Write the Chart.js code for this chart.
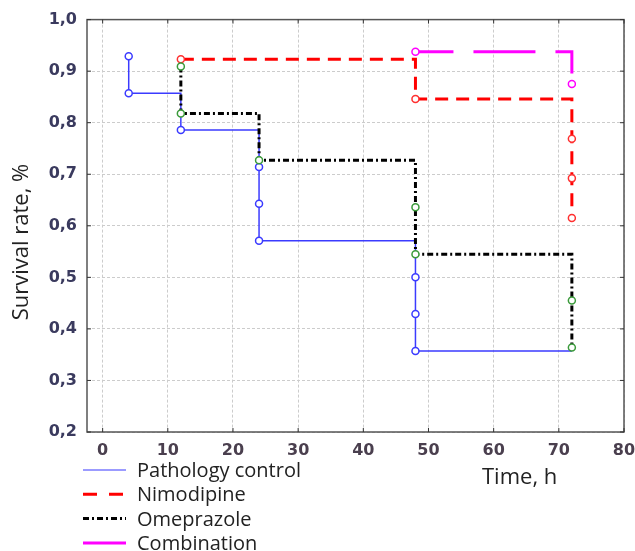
<!DOCTYPE html>
<html>
<head>
<meta charset="utf-8">
<script src="https://cdn.jsdelivr.net/npm/chart.js@4.4.0/dist/chart.umd.min.js"></script>
<style>
  html, body { margin: 0; padding: 0; background: #fff; }
</style>
</head>
<body>
<canvas id="chartjs-0" width="635" height="551"></canvas>
<script>
"use strict";

/* survival steps (time in h, survival fraction) */
var seriesNames = ["Pathology control", "Nimodipine", "Omeprazole", "Combination"];

var controlTimes = [4, 4, 12, 24, 24, 24, 48, 48, 48];
var controlSurv = [0.929, 0.857, 0.786, 0.714, 0.643, 0.571, 0.500, 0.429, 0.357];

var nimoTimes = [12, 48, 72, 72, 72];
var nimoSurv = [0.923, 0.846, 0.769, 0.692, 0.615];

var omeTimes = [12, 12, 24, 48, 48, 72, 72];
var omeSurv = [0.909, 0.818, 0.727, 0.636, 0.545, 0.455, 0.364];

var comboTimes = [48, 72];
var comboSurv = [0.9375, 0.875];

var endTime = 72;

/* build step curve: corner points get no marker */
function stepPoints(times, surv, end) {
  var pts = [];
  var radius = [];
  for (let i = 0; i < times.length; i++) {
    if (i > 0 && times[i] !== times[i - 1]) {
      pts.push({ x: times[i], y: surv[i - 1] });
      radius.push(0);
    }
    pts.push({ x: times[i], y: surv[i] });
    radius.push(3.5);
  }
  var last = times[times.length - 1];
  if (end > last) {
    pts.push({ x: end, y: surv[surv.length - 1] });
    radius.push(0);
  }
  return { pts: pts, radius: radius };
}

var control = stepPoints(controlTimes, controlSurv, endTime);
var nimo = stepPoints(nimoTimes, nimoSurv, endTime);
var ome = stepPoints(omeTimes, omeSurv, endTime);
var combo = stepPoints(comboTimes, comboSurv, endTime);

/* frame, inner ticks, legend and axis titles */
var extras = {
  id: "extras",
  beforeDatasetsDraw(chart) {
    var ctx = chart.ctx;
    var a = chart.chartArea;
    var xs = chart.scales.x;
    var ys = chart.scales.y;
    ctx.save();
    ctx.strokeStyle = "#555";
    ctx.lineWidth = 1.5;
    ctx.strokeRect(a.left, a.top, a.right - a.left, a.bottom - a.top);
    ctx.lineWidth = 1;
    ctx.strokeStyle = "#333";
    ctx.beginPath();
    xs.ticks.forEach(function (t) {
      var px = xs.getPixelForValue(t.value);
      ctx.moveTo(px, a.bottom); ctx.lineTo(px, a.bottom - 4);
      ctx.moveTo(px, a.top); ctx.lineTo(px, a.top + 4);
    });
    ys.ticks.forEach(function (t) {
      var py = ys.getPixelForValue(t.value);
      ctx.moveTo(a.left, py); ctx.lineTo(a.left + 4, py);
      ctx.moveTo(a.right, py); ctx.lineTo(a.right - 4, py);
    });
    ctx.stroke();
    ctx.restore();
  },
  afterDraw(chart) {
    var ctx = chart.ctx;
    ctx.save();
    ctx.fillStyle = "#222";

    // y title
    ctx.font = "22px 'Open Sans'";
    ctx.textAlign = "center";
    ctx.textBaseline = "alphabetic";
    ctx.save();
    ctx.translate(28, 242);
    ctx.rotate(-Math.PI / 2);
    ctx.fillText("Survival rate, %", 0, 0);
    ctx.restore();

    // x title
    ctx.font = "22px 'Open Sans'";
    ctx.textAlign = "left";
    ctx.fillText("Time, h", 482, 484);

    // legend, one entry per row
    ctx.font = "20px 'Open Sans'";
    chart.data.datasets.forEach(function (ds, i) {
      var y = 470 + i * 24.3;
      ctx.save();
      ctx.strokeStyle = ds.legendColor || ds.borderColor;
      ctx.lineWidth = ds.borderWidth;
      ctx.setLineDash(ds.legendDash || ds.borderDash || []);
      ctx.beginPath();
      ctx.moveTo(83, y);
      ctx.lineTo(126, y);
      ctx.stroke();
      ctx.restore();
      ctx.fillText(ds.label, 137, y + 7);
    });
    ctx.restore();
  }
};

var ctx0 = document.getElementById("chartjs-0");
var myChart = new Chart(ctx0, {
  type: "line",
  data: {
    datasets: [
      {
        label: seriesNames[0],
        data: control.pts,
        borderColor: "#3b3bff",
        legendColor: "#7a7aff",
        borderWidth: 1.5,
        pointRadius: control.radius,
        pointBorderColor: "#3b3bff",
        pointBackgroundColor: "#fff",
        pointBorderWidth: 1.5,
        order: 4
      },
      {
        label: seriesNames[1],
        data: nimo.pts,
        borderColor: "#ff0000",
        borderWidth: 3,
        borderDash: [13, 8],
        legendDash: [14, 12],
        pointRadius: nimo.radius,
        pointBorderColor: "#ff3030",
        pointBackgroundColor: "#fff",
        pointBorderWidth: 1.5,
        order: 3
      },
      {
        label: seriesNames[2],
        data: ome.pts,
        borderColor: "#000",
        borderWidth: 3,
        borderDash: [6, 3, 2, 3],
        pointRadius: ome.radius,
        pointBorderColor: "#3a9a3a",
        pointBackgroundColor: "#fff",
        pointBorderWidth: 1.5,
        order: 2
      },
      {
        label: seriesNames[3],
        data: combo.pts,
        borderColor: "#ff00ff",
        borderWidth: 3,
        borderDash: [38, 20, 62, 20],
        legendDash: [],
        pointRadius: combo.radius,
        pointBorderColor: "#ff00ff",
        pointBackgroundColor: "#fff",
        pointBorderWidth: 1.5,
        order: 1
      }
    ]
  },
  options: {
    responsive: false,
    animation: false,
    layout: { padding: { top: 19, right: 11, left: 0, bottom: 0 } },
    plugins: {
      legend: { display: false },
      tooltip: { enabled: false }
    },
    elements: { line: { tension: 0 } },
    scales: {
      x: {
        type: "linear",
        min: -2.4,
        max: 80,
        afterFit: function (scale) {
          scale.height = 119;
          scale.paddingRight = 0;
          scale.paddingLeft = 0;
        },
        ticks: {
          stepSize: 10,
          includeBounds: false,
          padding: 9,
          color: "#4a3f4e",
          font: { family: "'DejaVu Sans'", size: 16, weight: "bold" }
        },
        grid: { color: "#cccccc", drawTicks: false },
        border: { display: false, dash: [3, 2] }
      },
      y: {
        min: 0.2,
        max: 1.0,
        afterFit: function (scale) { scale.width = 87; },
        ticks: {
          stepSize: 0.1,
          padding: 10,
          color: "#3a3a5e",
          font: { family: "'DejaVu Sans'", size: 16, weight: "bold" },
          callback: function (v) { return v.toFixed(1).replace(".", ","); }
        },
        grid: { color: "#cccccc", drawTicks: false },
        border: { display: false, dash: [3, 2] }
      }
    }
  },
  plugins: [extras]
});
</script>
</body>
</html>
